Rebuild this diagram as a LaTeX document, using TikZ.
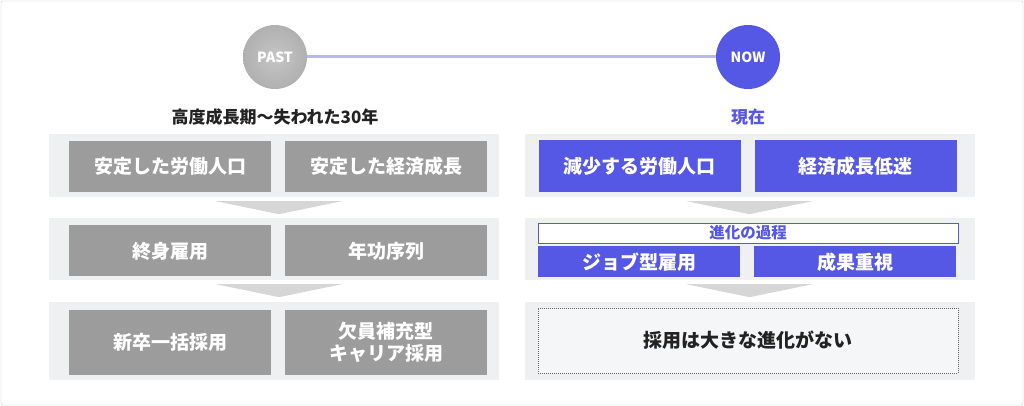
\documentclass[tikz,border=0pt]{standalone}
\usepackage{fontspec}
\setmainfont{Noto Sans CJK JP}
\usetikzlibrary{positioning,calc}

\definecolor{bandgray}{HTML}{EEF0F2}
\definecolor{boxgray}{HTML}{9C9C9C}
\definecolor{accent}{HTML}{5558E5}
\definecolor{trigray}{HTML}{D6D6D6}
\definecolor{inkdark}{HTML}{222222}
\definecolor{framegray}{HTML}{C8C8C8}
\definecolor{linkblue}{HTML}{B4BAEA}

\newcommand\boxfont{\fontsize{19}{22}\selectfont\bfseries}

\tikzset{
  band/.style={fill=bandgray, minimum width=450, inner sep=0},
  box/.style={fill=boxgray, text=white, font=\boxfont, minimum width=202, minimum height=51, inner sep=0, align=center},
  nowbox/.style={box, fill=accent},
  dot/.style={circle, minimum size=64, inner sep=0, text=white, font=\fontsize{14}{16}\selectfont\bfseries},
  title/.style={font=\fontsize{17}{20}\selectfont\bfseries, text=inkdark},
  tri/.style={fill=trigray}
}

\begin{document}
\begin{tikzpicture}[x=1pt, y=-1pt]
  \useasboundingbox (0,0) rectangle (1024,406);
  \draw[framegray, rounded corners=2] (1,1) rectangle (1023,405);
  % Define nodes
  \node[dot, shading=radial, inner color=gray!45, outer color=gray!62] (past) at (275,57) {PAST};
  \node[dot, fill=accent] (now) at (748,57) {NOW};
  \node[title] (pastlbl) at (275,117) {高度成長期〜失われた30年};
  \node[title, text=accent] (nowlbl) at (748,117) {現在};
  % bands
  \node[band, minimum height=63] (lrow1) at (274,165.5) {};
  \node[band, minimum height=62] (lrow2) at (274,249) {};
  \node[band, minimum height=78] (lrow3) at (274,341) {};
  \node[band, minimum height=63] (rrow1) at (749.5,165.5) {};
  \node[band, minimum height=62] (rrow2) at (749.5,249) {};
  \node[band, minimum height=78] (rrow3) at (749.5,341) {};
  % past side
  \node[box] (labor) at (170,166.5) {安定した労働人口};
  \node[box, right=14pt of labor] (growth) {安定した経済成長};
  \node[box, below=33pt of labor] (lifetime) {終身雇用};
  \node[box, right=14pt of lifetime] (seniority) {年功序列};
  \node[box, below=33pt of lifetime, minimum height=65] (graduate) {新卒一括採用};
  \node[box, right=14pt of graduate, minimum height=65] (career) {欠員補充型\\キャリア採用};
  % now side
  \node[nowbox] (decline) at (639.5,166) {減少する労働人口};
  \node[nowbox, right=14pt of decline] (slump) {経済成長低迷};
  \node[draw=accent, fill=white, text=accent, minimum width=420, minimum height=20, inner sep=0,
        font=\fontsize{15.5}{17}\selectfont\bfseries] (process) at (748,233) {進化の過程};
  \node[nowbox, minimum height=31, below right=3pt and 0pt of process.south west] (job) {ジョブ型雇用};
  \node[nowbox, minimum height=31, right=14pt of job] (result) {成果重視};
  \node[draw=black!60, dash pattern=on 1pt off 1pt, fill=bandgray!60, minimum width=420, minimum height=65,
        text=inkdark, font=\boxfont] (hiring) at (748,340.5) {採用は大きな進化がない};
  % Connect nodes
  \draw[linkblue, line width=3] (past) -- (now);
  \foreach \r/\dx in {lrow1/5, lrow2/5, rrow1/0, rrow2/0}
    \fill[tri] ($(\r.south)+(\dx-63,4)$) -- ++(126,0) -- ++(-63,13) -- cycle;
\end{tikzpicture}
\end{document}
